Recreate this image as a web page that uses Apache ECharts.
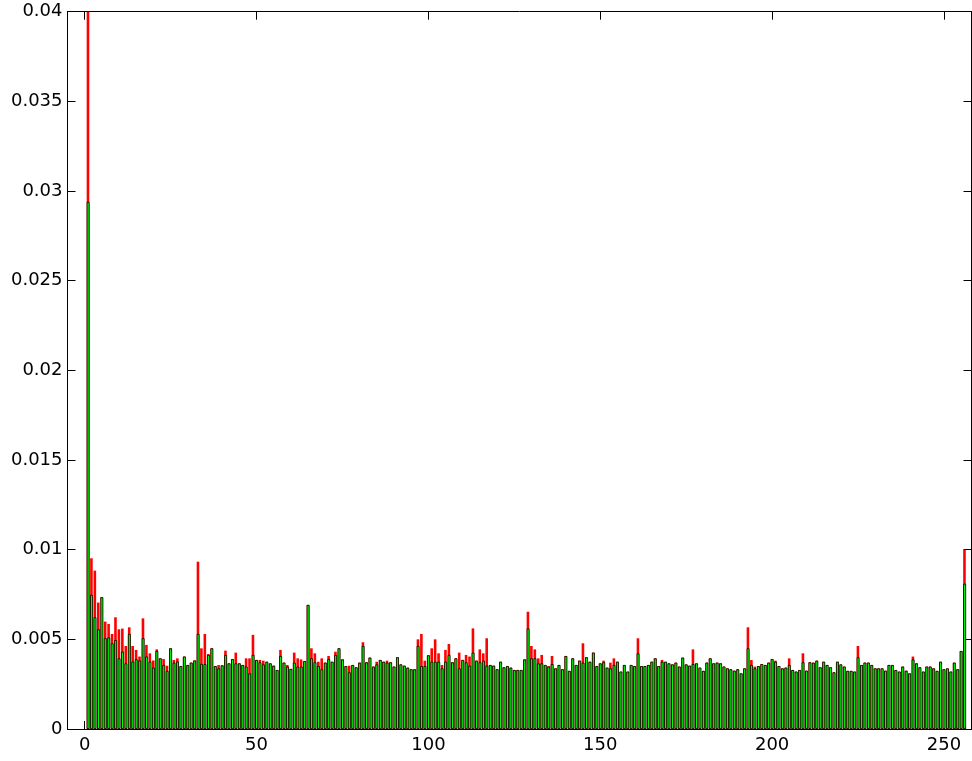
<!DOCTYPE html>
<html>
<head>
<meta charset="utf-8">
<script src="https://cdn.jsdelivr.net/npm/echarts@6/dist/echarts.min.js"></script>
<style>
html,body{margin:0;padding:0;background:#fff;}
#chart{width:972px;height:761px;}
</style>
</head>
<body>
<div id="chart"></div>
<script>
// first bin index; bins run consecutively from here
const binStart = 1;
// green histogram (front)
const greenValues = [
0.0294,0.00748,0.00623,0.00556,0.00735,0.00506,0.00510,0.00478,0.00496,0.00394,
0.00431,0.00366,0.00530,0.00376,0.00389,0.00382,0.00506,0.00404,0.00376,0.00342,
0.00435,0.00394,0.00357,0.00324,0.00450,0.00370,0.00376,0.00351,0.00404,0.00357,
0.00370,0.00382,0.00530,0.00363,0.00362,0.00413,0.00450,0.00351,0.00338,0.00355,
0.00413,0.00366,0.00390,0.00366,0.00366,0.00357,0.00348,0.00310,0.00413,0.00385,
0.00372,0.00360,0.00375,0.00366,0.00353,0.00329,0.00407,0.00370,0.00348,0.00335,
0.00370,0.00348,0.00348,0.00379,0.00692,0.00394,0.00372,0.00351,0.00333,0.00370,
0.00390,0.00375,0.00413,0.00450,0.00388,0.00351,0.00316,0.00357,0.00344,0.00370,
0.00463,0.00372,0.00398,0.00348,0.00360,0.00385,0.00375,0.00370,0.00372,0.00348,
0.00400,0.00360,0.00353,0.00342,0.00333,0.00333,0.00463,0.00351,0.00351,0.00411,
0.00375,0.00375,0.00375,0.00338,0.00375,0.00413,0.00372,0.00394,0.00338,0.00385,
0.00372,0.00353,0.00426,0.00381,0.00372,0.00381,0.00353,0.00357,0.00353,0.00333,
0.00375,0.00344,0.00351,0.00342,0.00329,0.00329,0.00329,0.00388,0.00561,0.00394,
0.00394,0.00366,0.00366,0.00357,0.00348,0.00362,0.00338,0.00357,0.00333,0.00407,
0.00324,0.00394,0.00357,0.00381,0.00370,0.00400,0.00375,0.00426,0.00351,0.00366,
0.00372,0.00342,0.00338,0.00357,0.00375,0.00320,0.00357,0.00320,0.00357,0.00351,
0.00422,0.00351,0.00351,0.00357,0.00375,0.00394,0.00351,0.00375,0.00375,0.00366,
0.00360,0.00370,0.00348,0.00398,0.00360,0.00353,0.00362,0.00366,0.00342,0.00324,
0.00370,0.00394,0.00366,0.00370,0.00366,0.00348,0.00338,0.00333,0.00325,0.00333,
0.00310,0.00338,0.00450,0.00357,0.00338,0.00351,0.00362,0.00357,0.00370,0.00390,
0.00375,0.00351,0.00338,0.00342,0.00357,0.00329,0.00320,0.00329,0.00372,0.00325,
0.00372,0.00370,0.00381,0.00344,0.00375,0.00357,0.00344,0.00316,0.00375,0.00360,
0.00348,0.00324,0.00324,0.00320,0.00400,0.00357,0.00370,0.00370,0.00357,0.00338,
0.00338,0.00338,0.00325,0.00357,0.00357,0.00329,0.00320,0.00348,0.00325,0.00310,
0.00388,0.00366,0.00344,0.00320,0.00348,0.00348,0.00338,0.00324,0.00375,0.00333,
0.00338,0.00320,0.00370,0.00333,0.00435,0.00810
];
// red histogram (behind)
const redValues = [
0.0410,0.00952,0.00883,0.00705,0.00735,0.00599,0.00586,0.00530,0.00623,0.00556,
0.00560,0.00463,0.00567,0.00463,0.00441,0.00404,0.00617,0.00469,0.00422,0.00382,
0.00444,0.00394,0.00390,0.00353,0.00450,0.00385,0.00394,0.00351,0.00404,0.00357,
0.00370,0.00382,0.00933,0.00450,0.00530,0.00418,0.00450,0.00351,0.00357,0.00355,
0.00437,0.00366,0.00390,0.00426,0.00366,0.00357,0.00394,0.00394,0.00525,0.00385,
0.00385,0.00381,0.00375,0.00366,0.00353,0.00329,0.00441,0.00370,0.00357,0.00335,
0.00426,0.00394,0.00388,0.00379,0.00692,0.00450,0.00422,0.00375,0.00394,0.00370,
0.00407,0.00375,0.00431,0.00450,0.00388,0.00351,0.00353,0.00357,0.00344,0.00370,
0.00484,0.00372,0.00398,0.00348,0.00375,0.00385,0.00375,0.00381,0.00372,0.00348,
0.00400,0.00360,0.00353,0.00342,0.00333,0.00333,0.00500,0.00530,0.00381,0.00411,
0.00450,0.00500,0.00422,0.00357,0.00441,0.00474,0.00372,0.00394,0.00426,0.00385,
0.00413,0.00404,0.00561,0.00381,0.00444,0.00422,0.00506,0.00357,0.00353,0.00333,
0.00375,0.00344,0.00351,0.00342,0.00329,0.00329,0.00329,0.00388,0.00654,0.00463,
0.00444,0.00394,0.00413,0.00357,0.00351,0.00407,0.00338,0.00357,0.00333,0.00407,
0.00324,0.00394,0.00357,0.00381,0.00478,0.00400,0.00375,0.00426,0.00351,0.00366,
0.00381,0.00342,0.00370,0.00394,0.00375,0.00320,0.00357,0.00320,0.00357,0.00351,
0.00506,0.00351,0.00351,0.00357,0.00375,0.00394,0.00351,0.00385,0.00375,0.00366,
0.00360,0.00370,0.00348,0.00398,0.00360,0.00353,0.00444,0.00366,0.00342,0.00324,
0.00370,0.00394,0.00366,0.00370,0.00366,0.00348,0.00338,0.00333,0.00325,0.00333,
0.00310,0.00338,0.00567,0.00385,0.00348,0.00351,0.00362,0.00357,0.00370,0.00390,
0.00381,0.00351,0.00338,0.00342,0.00394,0.00329,0.00320,0.00329,0.00422,0.00325,
0.00372,0.00370,0.00381,0.00344,0.00375,0.00357,0.00344,0.00316,0.00375,0.00360,
0.00348,0.00324,0.00324,0.00320,0.00463,0.00357,0.00370,0.00370,0.00357,0.00338,
0.00338,0.00338,0.00325,0.00357,0.00357,0.00329,0.00320,0.00348,0.00325,0.00310,
0.00404,0.00366,0.00344,0.00320,0.00348,0.00348,0.00338,0.00324,0.00375,0.00333,
0.00338,0.00320,0.00370,0.00333,0.00435,0.0100
];
const xTicks = [0, 50, 100, 150, 200, 250];
const xMin = -5, xMax = 258;
const yMin = 0, yMax = 0.04, yStep = 0.005;

const pairs = vals => vals.map((v, i) => [binStart + i, v]);

const fontFamily = '"DejaVu Sans", "Liberation Sans", Arial, sans-serif';
const lineStyle = { color: '#000', width: 1 };

const chart = echarts.init(document.getElementById('chart'), null, { renderer: 'canvas' });
chart.setOption({
  animation: false,
  backgroundColor: '#fff',
  grid: { left: 67.5, right: 0.5, top: 11.7, bottom: 32, containLabel: false },
  xAxis: [
    {
      type: 'value', min: xMin, max: xMax, position: 'bottom',
      axisLine: { show: true, onZero: false, lineStyle },
      axisTick: { show: true, inside: true, length: 8, customValues: xTicks, lineStyle: { color: '#000', width: 1 } },
      axisLabel: { show: true, customValues: xTicks, margin: 7, color: '#000', fontSize: 18, fontFamily },
      splitLine: { show: false }
    },
    {
      type: 'value', min: xMin, max: xMax, position: 'top',
      axisLine: { show: true, onZero: false, lineStyle },
      axisTick: { show: true, inside: true, length: 8, customValues: xTicks, lineStyle: { color: '#000', width: 1 } },
      axisLabel: { show: false },
      splitLine: { show: false }
    }
  ],
  yAxis: [
    {
      type: 'value', min: yMin, max: yMax, interval: yStep, position: 'left',
      axisLine: { show: true, onZero: false, lineStyle },
      axisTick: { show: true, inside: true, length: 8, lineStyle: { color: '#000', width: 1 } },
      axisLabel: { show: true, margin: 5, color: '#000', fontSize: 18, fontFamily },
      splitLine: { show: false }
    },
    {
      type: 'value', min: yMin, max: yMax, interval: yStep, position: 'right',
      axisLine: { show: true, onZero: false, lineStyle },
      axisTick: { show: true, inside: true, length: 8, lineStyle: { color: '#000', width: 1 } },
      axisLabel: { show: false },
      splitLine: { show: false }
    }
  ],
  series: [
    {
      name: 'red', type: 'bar', xAxisIndex: 0, yAxisIndex: 0,
      data: pairs(redValues), barWidth: 2.6, barGap: '-100%',
      itemStyle: { color: '#ff0000', borderWidth: 0 },
      clip: true, z: 2
    },
    {
      name: 'green', type: 'bar', xAxisIndex: 0, yAxisIndex: 0,
      data: pairs(greenValues), barWidth: 2.9, barGap: '-100%',
      itemStyle: { color: '#00ff00', borderColor: '#000', borderWidth: 0.8 },
      clip: true, z: 3
    }
  ]
});
</script>
</body>
</html>
